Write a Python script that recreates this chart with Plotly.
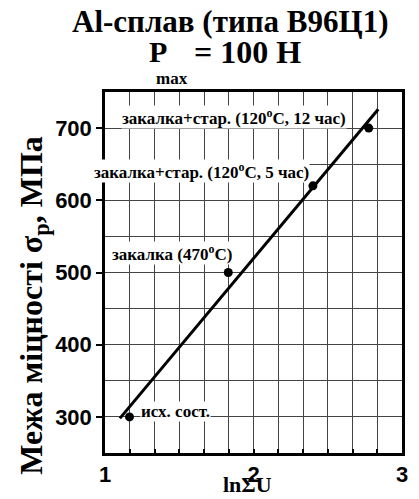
import plotly.graph_objects as go

# data
ln_sum_u = [1.165, 1.83, 2.40, 2.776]
sigma_p = [300, 500, 620, 700]
fit_x = [1.10, 2.84]
fit_y = [298, 726]
labels = ["исх. сост.", "закалка (470<sup>o</sup>C)",
          "закалка+стар. (120<sup>o</sup>C, 5 час)",
          "закалка+стар. (120<sup>o</sup>C, 12 час)"]
label_x = [1.478, 1.451, 1.650, 1.872]
label_y = [307, 527.6, 640, 714.7]
x_grid = [1 + i / 6 for i in range(13)]
y_major = [300, 400, 500, 600, 700]
X0, X1 = 1, 3
Y0, Y1 = 250, 750

SERIF = "Liberation Serif, Times New Roman, serif"
SANS = "Liberation Sans, Arial, sans-serif"
GRID = "#444444"

fig = go.Figure()
fig.add_trace(go.Scatter(x=fit_x, y=fit_y, mode="lines",
                         line=dict(color="black", width=3), showlegend=False))
fig.add_trace(go.Scatter(x=ln_sum_u, y=sigma_p, mode="markers",
                         marker=dict(color="black", size=9), showlegend=False))

for t, x, y in zip(labels, label_x, label_y):
    fig.add_annotation(x=x, y=y, text="<b>" + t + "</b>", showarrow=False,
                       xanchor="center", yanchor="middle",
                       font=dict(family=SERIF, size=17, color="black"),
                       bgcolor="white", borderpad=0)

def pannot(text, px, py, size, angle=0):
    fig.add_annotation(xref="paper", yref="paper",
                       x=(px - 105) / 297, y=(453.3 - py) / 361,
                       xanchor="center", yanchor="middle", textangle=angle,
                       text=text, showarrow=False,
                       font=dict(family=SERIF, size=size, color="black"))

pannot("<b>Al-сплав (типа В96Ц1)</b>", 230, 22, 31)
pannot("<b>P</b>", 158, 52, 30)
pannot("<b>max</b>", 172, 79, 17)
pannot("<b>= 100 Н</b>", 247, 52, 32)
pannot("<b>Межа міцності σ<sub>p</sub>, МПа</b>", 34, 306, 32, angle=-90)
pannot("<b>lnΣU</b>", 247, 485, 22)

fig.update_layout(
    width=419, height=499,
    margin=dict(l=105, r=17, t=92, b=46),
    paper_bgcolor="white", plot_bgcolor="white",
    font=dict(family=SANS, color="black"),
    xaxis=dict(range=[X0, X1], tickvals=x_grid,
               ticktext=[f"<b>{round(v)}</b>" if abs(v - round(v)) < 1e-9 else "" for v in x_grid],
               tickfont=dict(family=SANS, size=22),
               ticks="inside", ticklen=4, tickwidth=2, tickcolor="black",
               showgrid=True, gridcolor=GRID, gridwidth=1,
               showline=True, linecolor="black", linewidth=2.5,
               mirror=True, zeroline=False),
    yaxis=dict(range=[Y0, Y1], tickvals=y_major, ticktext=[f"<b>{v}</b>" for v in y_major],
               tickfont=dict(family=SANS, size=22),
               ticks="outside", ticklen=6, tickwidth=2, tickcolor="black",
               showgrid=True, gridcolor=GRID, gridwidth=1,
               minor=dict(dtick=50, tick0=250, showgrid=True, gridcolor=GRID, gridwidth=1),
               showline=True, linecolor="black", linewidth=2.5,
               mirror=True, zeroline=False),
)

fig.write_html("out.html")
